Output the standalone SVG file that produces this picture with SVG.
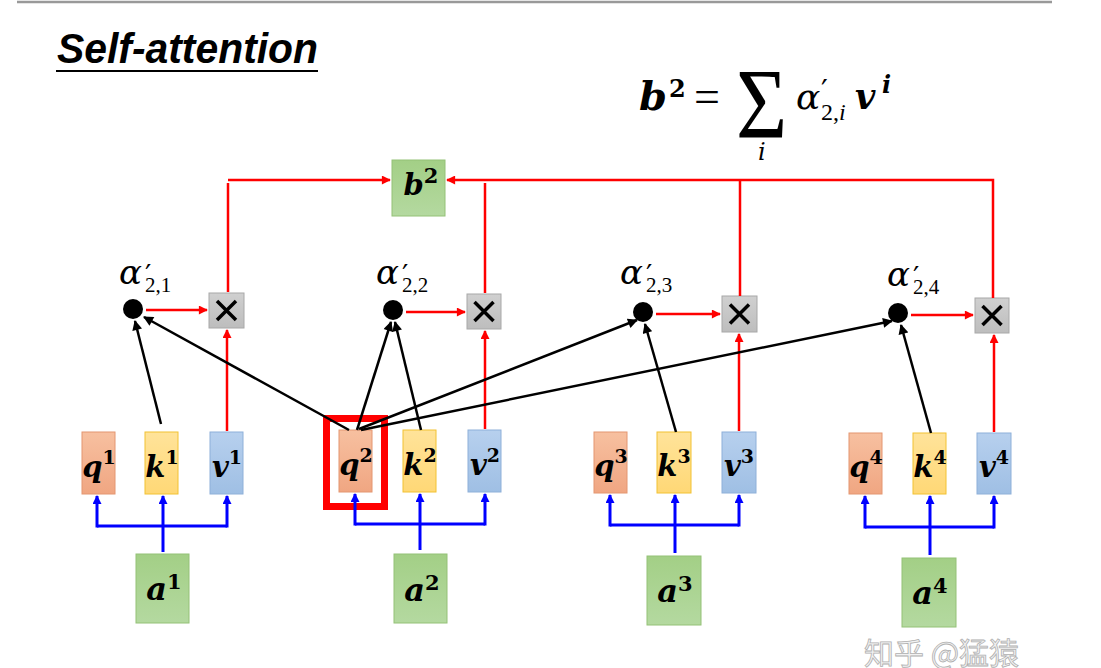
<svg xmlns="http://www.w3.org/2000/svg" width="1101" height="668" viewBox="0 0 1101 668">
<defs>
<linearGradient id="gG" x1="0" y1="0" x2="0" y2="1"><stop offset="0" stop-color="#a3cf86"/><stop offset="1" stop-color="#b4d9a0"/></linearGradient>
<linearGradient id="gQ" x1="0" y1="0" x2="0" y2="1"><stop offset="0" stop-color="#f7c0a0"/><stop offset="1" stop-color="#f0a682"/></linearGradient>
<linearGradient id="gK" x1="0" y1="0" x2="0" y2="1"><stop offset="0" stop-color="#ffe39a"/><stop offset="1" stop-color="#ffd876"/></linearGradient>
<linearGradient id="gV" x1="0" y1="0" x2="0" y2="1"><stop offset="0" stop-color="#b7d0ee"/><stop offset="1" stop-color="#9fbfe4"/></linearGradient>
<linearGradient id="gX" x1="0" y1="0" x2="0" y2="1"><stop offset="0" stop-color="#d0d0d0"/><stop offset="1" stop-color="#bdbdbd"/></linearGradient>
<marker id="ar" viewBox="0 0 10 10" refX="9" refY="5" markerWidth="10" markerHeight="9" markerUnits="userSpaceOnUse" orient="auto"><path d="M0,0 L10,5 L0,10 z" fill="#ff0000"/></marker>
<marker id="ab" viewBox="0 0 10 10" refX="9" refY="5" markerWidth="11" markerHeight="10" markerUnits="userSpaceOnUse" orient="auto"><path d="M0,0 L10,5 L0,10 z" fill="#000"/></marker>
<marker id="au" viewBox="0 0 10 10" refX="9" refY="5" markerWidth="10" markerHeight="9" markerUnits="userSpaceOnUse" orient="auto"><path d="M0,0 L10,5 L0,10 z" fill="#0000ff"/></marker>
</defs>
<style>
.math{font-family:"DejaVu Serif","Liberation Serif",serif;font-weight:bold;font-style:italic;fill:#000}
.sup{font-style:normal;font-weight:bold}
.box-q{fill:url(#gQ);stroke:#e49670;stroke-width:1}
.box-k{fill:url(#gK);stroke:#f2c232;stroke-width:1}
.box-v{fill:url(#gV);stroke:#8eb0d9;stroke-width:1}
.box-a{fill:url(#gG);stroke:#94c177;stroke-width:1}
.box-x{fill:url(#gX);stroke:#a8a8a8;stroke-width:1}
.xmark{stroke:#000;stroke-width:3.5;stroke-linecap:butt}
.red{stroke:#ff0000;stroke-width:2.5;fill:none}
.redA{stroke:#ff0000;stroke-width:2.5;fill:none;marker-end:url(#ar)}
.blk{stroke:#000;stroke-width:2.5;fill:none;marker-end:url(#ab)}
.blu{stroke:#0000ff;stroke-width:3;fill:none}
.bluA{stroke:#0000ff;stroke-width:3;fill:none;marker-end:url(#au)}
.alpha{font-family:"DejaVu Serif","Liberation Serif",serif;fill:#000}
.sub{font-family:"Liberation Serif","DejaVu Serif",serif;fill:#000}
</style>
<rect width="1101" height="668" fill="#fff"/>
<line x1="17" y1="2" x2="1052" y2="2" stroke="#999" stroke-width="2.5"/>

<g id="title">
<text x="57" y="63" font-family="Liberation Sans,Arial,sans-serif" font-weight="bold" font-style="italic" font-size="43" textLength="261" lengthAdjust="spacingAndGlyphs">Self-attention</text>
<line x1="56" y1="71" x2="318" y2="71" stroke="#000" stroke-width="2"/>
</g>

<g id="formula">
<text class="math" x="639" y="110" font-size="40">b</text>
<text class="math sup" x="669" y="97" font-size="24">2</text>
<text x="694" y="112" font-family="Liberation Serif,serif" font-size="46">=</text>
<text x="736" y="137" font-family="Liberation Serif,serif" font-size="100" transform="translate(736 137) scale(0.88 1) translate(-736 -137)">Σ</text>
<text x="758" y="160" font-family="DejaVu Serif,serif" font-style="italic" font-size="24">i</text>
<text class="alpha" x="796" y="109" font-style="italic" font-size="36">α</text>
<text class="alpha" x="821" y="101" font-size="30">′</text>
<text class="sub" x="821" y="120" font-size="24">2,<tspan font-style="italic">i</tspan></text>
<text class="math" x="855" y="109" font-size="35">v</text>
<text class="math" x="882" y="93" font-size="24">i</text>
</g>

<g id="node-b2">
<rect class="box-a" x="392" y="160" width="53" height="56"/>
<text class="math" x="421" y="195" font-size="29" text-anchor="middle">b<tspan class="sup" font-size="21" dy="-12">2</tspan></text>
</g>

<g id="highlight">
<rect x="326.5" y="418.5" width="58" height="88" fill="none" stroke="#ff0000" stroke-width="7"/>
</g>

<g id="nodes-qkv">
<g id="node-q1"><rect class="box-q" x="82" y="432" width="33" height="62"/><text class="math" x="99" y="477" font-size="29" text-anchor="middle">q<tspan class="sup" font-size="19" dy="-13">1</tspan></text></g>
<g id="node-k1"><rect class="box-k" x="145" y="432" width="33" height="62"/><text class="math" x="162" y="477" font-size="29" text-anchor="middle">k<tspan class="sup" font-size="19" dy="-13">1</tspan></text></g>
<g id="node-v1"><rect class="box-v" x="210" y="432" width="33" height="62"/><text class="math" x="227" y="477" font-size="29" text-anchor="middle">v<tspan class="sup" font-size="19" dy="-13">1</tspan></text></g>

<g id="node-q2"><rect class="box-q" x="339" y="430" width="33" height="62"/><text class="math" x="356" y="475" font-size="29" text-anchor="middle">q<tspan class="sup" font-size="19" dy="-13">2</tspan></text></g>
<g id="node-k2"><rect class="box-k" x="403" y="430" width="33" height="62"/><text class="math" x="420" y="475" font-size="29" text-anchor="middle">k<tspan class="sup" font-size="19" dy="-13">2</tspan></text></g>
<g id="node-v2"><rect class="box-v" x="468" y="430" width="33" height="62"/><text class="math" x="485" y="475" font-size="29" text-anchor="middle">v<tspan class="sup" font-size="19" dy="-13">2</tspan></text></g>

<g id="node-q3"><rect class="box-q" x="594" y="432" width="33" height="61"/><text class="math" x="611" y="476" font-size="29" text-anchor="middle">q<tspan class="sup" font-size="19" dy="-13">3</tspan></text></g>
<g id="node-k3"><rect class="box-k" x="657" y="432" width="34" height="61"/><text class="math" x="674" y="476" font-size="29" text-anchor="middle">k<tspan class="sup" font-size="19" dy="-13">3</tspan></text></g>
<g id="node-v3"><rect class="box-v" x="722" y="432" width="34" height="61"/><text class="math" x="739" y="476" font-size="29" text-anchor="middle">v<tspan class="sup" font-size="19" dy="-13">3</tspan></text></g>

<g id="node-q4"><rect class="box-q" x="849" y="433" width="33" height="61"/><text class="math" x="866" y="477" font-size="29" text-anchor="middle">q<tspan class="sup" font-size="19" dy="-13">4</tspan></text></g>
<g id="node-k4"><rect class="box-k" x="913" y="433" width="33" height="61"/><text class="math" x="930" y="477" font-size="29" text-anchor="middle">k<tspan class="sup" font-size="19" dy="-13">4</tspan></text></g>
<g id="node-v4"><rect class="box-v" x="977" y="433" width="34" height="61"/><text class="math" x="994" y="477" font-size="29" text-anchor="middle">v<tspan class="sup" font-size="19" dy="-13">4</tspan></text></g>
</g>

<g id="nodes-a">
<g id="node-a1"><rect class="box-a" x="136" y="554" width="53" height="69"/><text class="math" x="164" y="600" font-size="32" text-anchor="middle">a<tspan class="sup" font-size="21" dy="-11">1</tspan></text></g>
<g id="node-a2"><rect class="box-a" x="394" y="554" width="53" height="69"/><text class="math" x="422" y="601" font-size="32" text-anchor="middle">a<tspan class="sup" font-size="21" dy="-11">2</tspan></text></g>
<g id="node-a3"><rect class="box-a" x="647" y="556" width="54" height="69"/><text class="math" x="675" y="602" font-size="32" text-anchor="middle">a<tspan class="sup" font-size="21" dy="-11">3</tspan></text></g>
<g id="node-a4"><rect class="box-a" x="902" y="558" width="54" height="69"/><text class="math" x="930" y="604" font-size="32" text-anchor="middle">a<tspan class="sup" font-size="21" dy="-11">4</tspan></text></g>
</g>

<g id="nodes-mult">
<g id="node-x1"><rect class="box-x" x="209" y="293" width="35" height="35"/><path class="xmark" d="M217,301 L236,320 M236,301 L217,320"/></g>
<g id="node-x2"><rect class="box-x" x="467" y="294" width="34" height="35"/><path class="xmark" d="M474.5,302 L493.5,321 M493.5,302 L474.5,321"/></g>
<g id="node-x3"><rect class="box-x" x="722" y="296" width="35" height="36"/><path class="xmark" d="M730,304.5 L749,323.5 M749,304.5 L730,323.5"/></g>
<g id="node-x4"><rect class="box-x" x="975" y="298" width="34" height="35"/><path class="xmark" d="M982.5,306 L1001.5,325 M1001.5,306 L982.5,325"/></g>
</g>

<g id="nodes-alpha">
<g id="node-d1"><circle cx="133" cy="309" r="10" fill="#000"/><text class="alpha" x="119" y="284" font-style="italic" font-size="34">α</text><text class="alpha" x="145" y="285" font-size="28">′</text><text class="sub" x="145" y="292" font-size="21">2,1</text></g>
<g id="node-d2"><circle cx="393" cy="310" r="10" fill="#000"/><text class="alpha" x="376" y="284" font-style="italic" font-size="34">α</text><text class="alpha" x="402" y="285" font-size="28">′</text><text class="sub" x="402" y="292" font-size="21">2,2</text></g>
<g id="node-d3"><circle cx="643" cy="312" r="10" fill="#000"/><text class="alpha" x="620" y="284" font-style="italic" font-size="34">α</text><text class="alpha" x="646" y="285" font-size="28">′</text><text class="sub" x="646" y="292" font-size="21">2,3</text></g>
<g id="node-d4"><circle cx="898" cy="313" r="10" fill="#000"/><text class="alpha" x="887" y="286" font-style="italic" font-size="34">α</text><text class="alpha" x="913" y="287" font-size="28">′</text><text class="sub" x="913" y="294" font-size="21">2,4</text></g>
</g>

<g id="connectors">
<path class="redA" d="M228,180 L390,180"/>
<path class="red" d="M228,292 L228,183"/>
<path class="redA" d="M993,298 L993,180 L447,180"/>
<path class="red" d="M485,293 L485,183"/>
<path class="red" d="M740,296 L740,180"/>
<path class="redA" d="M146,310 L207,310"/>
<path class="redA" d="M406,312 L465,312"/>
<path class="redA" d="M656,314 L720,314"/>
<path class="redA" d="M911,315 L973,315"/>
<path class="redA" d="M227,431 L227,330"/>
<path class="redA" d="M485,429 L485,331"/>
<path class="redA" d="M739,431 L739,334"/>
<path class="redA" d="M994,432 L994,335"/>
<path class="blk" d="M161,424 L135,321"/>
<path class="blk" d="M349,430 L144,317"/>
<path class="blk" d="M357,430 L391,322"/>
<path class="blk" d="M421,430 L395,322"/>
<path class="blk" d="M359,429 L637,320"/>
<path class="blk" d="M361,430 L892,321"/>
<path class="blk" d="M676,432 L645,324"/>
<path class="blk" d="M931,433 L901,325"/>
<path class="bluA" d="M163,552 L163,496"/>
<path class="blu" d="M97,526 L227,526"/>
<path class="bluA" d="M97,527.5 L97,496"/>
<path class="bluA" d="M227,527.5 L227,496"/>
<path class="bluA" d="M420,550 L420,494"/>
<path class="blu" d="M355,524 L485,524"/>
<path class="bluA" d="M355,525.5 L355,494"/>
<path class="bluA" d="M485,525.5 L485,494"/>
<path class="bluA" d="M675,553 L675,495"/>
<path class="blu" d="M610,525 L739,525"/>
<path class="bluA" d="M610,526.5 L610,495"/>
<path class="bluA" d="M739,526.5 L739,495"/>
<path class="bluA" d="M930,555 L930,496"/>
<path class="blu" d="M865,527 L994,527"/>
<path class="bluA" d="M865,528.5 L865,496"/>
<path class="bluA" d="M994,528.5 L994,496"/>
</g>

<text x="864" y="664" font-family="Noto Sans CJK SC,sans-serif" font-size="30" fill="#f2f2f2" stroke="#b0b0b0" stroke-width="0.8">知乎 @猛猿</text>
</svg>
